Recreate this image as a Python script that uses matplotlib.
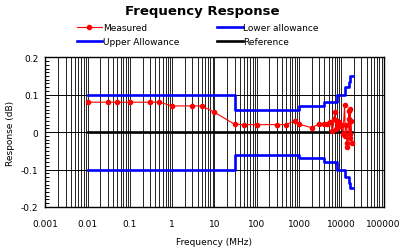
import matplotlib
matplotlib.use("Agg")
import matplotlib.pyplot as plt
from matplotlib.ticker import FixedLocator, FixedFormatter, LogLocator, MultipleLocator

# ---- data ----
meas_freq = [0.01, 0.03, 0.05, 0.1, 0.3, 0.5, 1, 3, 5, 10,
             30, 50, 100, 300, 500, 800, 1000, 2000, 3000, 4000, 4500,
             5500, 6200, 6800, 7000, 7500, 8000, 8500, 9000, 10000,
             11000, 12000, 12500, 13000, 13500, 14000, 15000, 15300,
             15800, 16200, 16500, 17000, 18000]
meas_val = [0.08, 0.08, 0.08, 0.08, 0.08, 0.08, 0.07, 0.07, 0.07, 0.053,
            0.021, 0.02, 0.02, 0.02, 0.02, 0.031, 0.021, 0.012, 0.022, 0.022, 0.022,
            0.026, 0.004, 0.035, 0.053, 0.008, 0.03, 0.014, 0.026, 0.02,
            -0.005, 0.072, -0.01, 0.02, -0.03, -0.04, 0.057, 0.035,
            -0.005, 0.062, -0.015, 0.031, -0.03]

upper_freq = [0.01, 30, 1000, 4000, 8000, 12000, 15000, 16500, 19000]
upper_val = [0.1, 0.06, 0.07, 0.08, 0.1, 0.12, 0.135, 0.15, 0.15]

lower_freq = [0.01, 30, 1000, 4000, 8000, 12000, 15000, 16500, 19000]
lower_val = [-0.1, -0.06, -0.07, -0.08, -0.1, -0.12, -0.135, -0.15, -0.15]

ref_freq = [0.01, 18000]
ref_val = [0.0, 0.0]

x_ticks = [0.001, 0.01, 0.1, 1, 10, 100, 1000, 10000, 100000]
x_labels = ["0.001", "0.01", "0.1", "1", "10", "100", "1000", "10000", "100000"]
y_ticks = [-0.2, -0.1, 0, 0.1, 0.2]
y_labels = ["-0.2", "-0.1", "0", "0.1", "0.2"]

# ---- figure ----
fig = plt.figure(figsize=(4.04, 2.53), dpi=100)
ax = fig.add_axes([0.1124, 0.178, 0.9493 - 0.1124, 0.7696 - 0.178])

ax.set_xscale("log")
ax.set_xlim(0.001, 100000)
ax.set_ylim(-0.2, 0.2)

# grid
ax.xaxis.set_major_locator(FixedLocator(x_ticks))
ax.xaxis.set_major_formatter(FixedFormatter(x_labels))
ax.xaxis.set_minor_locator(LogLocator(base=10, subs=range(2, 10), numticks=100))
ax.yaxis.set_major_locator(FixedLocator(y_ticks))
ax.yaxis.set_major_formatter(FixedFormatter(y_labels))
ax.yaxis.set_minor_locator(MultipleLocator(0.01))
ax.grid(True, which="both", axis="x", color="black", lw=0.6)
ax.grid(True, which="major", axis="y", color="black", lw=0.7)
ax.tick_params(axis="x", which="both", length=0, labelsize=6.5, pad=9)
ax.tick_params(axis="y", which="major", length=0, labelsize=6.5, pad=5)
ax.tick_params(axis="y", which="minor", direction="in", length=3, width=0.7)
for s in ax.spines.values():
    s.set_linewidth(1.0)

l_meas, = ax.plot(meas_freq, meas_val, color="#ff0000", lw=0.8,
                  marker="o", ms=3.0, mec="#ff0000", mfc="#ff0000", zorder=5,
                  label="Measured")
l_up, = ax.plot(upper_freq, upper_val, color="#0000ff", lw=1.9,
                drawstyle="steps-post", label="Upper Allowance", zorder=4)
l_low, = ax.plot(lower_freq, lower_val, color="#0000ff", lw=1.9,
                 drawstyle="steps-post", label="Lower allowance", zorder=4)
l_ref, = ax.plot(ref_freq, ref_val, color="black", lw=1.9,
                 label="Reference", zorder=3)

ax.set_xlabel("Frequency (MHz)", fontsize=6.5, labelpad=6)
ax.set_ylabel("Response (dB)", fontsize=6.5, labelpad=4)

fig.suptitle("Frequency Response", fontsize=9.5, fontweight="bold", y=0.98)

fig.legend(handles=[l_meas, l_up, l_low, l_ref], ncol=2,
           loc="upper left", bbox_to_anchor=(0.19, 0.905),
           frameon=False, fontsize=6.5, handlelength=2.8, handletextpad=0.1,
           columnspacing=4.2, labelspacing=0.6, borderaxespad=0,
           borderpad=0)

fig.savefig("out.png", dpi=100)
